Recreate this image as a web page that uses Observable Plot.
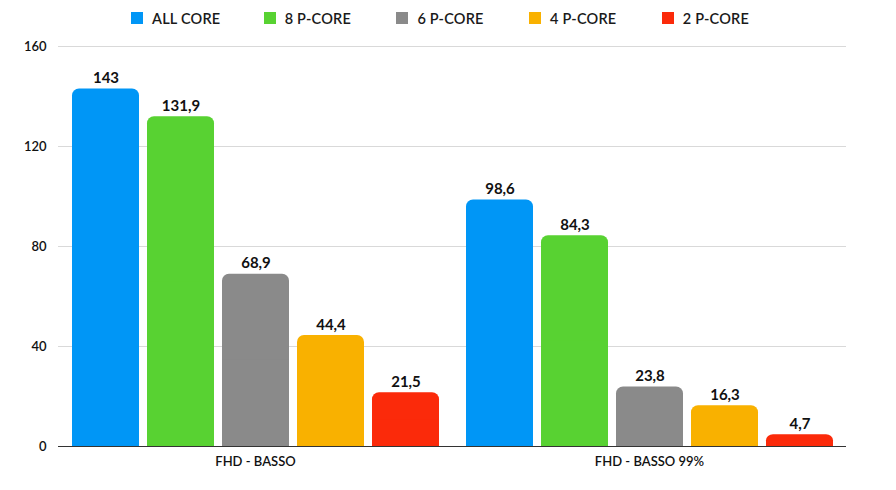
<!DOCTYPE html>
<html>
<head>
<meta charset="utf-8">
<script src="https://cdn.jsdelivr.net/npm/d3@7"></script>
<script src="https://cdn.jsdelivr.net/npm/@observablehq/plot@0.6"></script>
<style>
  body { margin: 0; background: #fff; font-family: Lato, "Open Sans", sans-serif; }
  #legend { height: 34px; display: flex; align-items: center; padding-left: 131px; padding-top: 2px; box-sizing: border-box; }
  .item { width: 132.7px; display: flex; align-items: center; font-size: 14.5px; font-weight: 600; color: #1a1a1a; letter-spacing: 0.2px; }
  .sw { width: 12px; height: 12px; margin-right: 9px; flex: none; }
</style>
</head>
<body>
<div id="legend"></div>
<div id="chart"></div>
<script>
const groups = ["FHD - BASSO", "FHD - BASSO 99%"];
const series = ["ALL CORE", "8 P-CORE", "6 P-CORE", "4 P-CORE", "2 P-CORE"];
const colors = ["#0096f6", "#58d232", "#8a8a8a", "#f9b100", "#fb2a0a"];
const basso = [143, 131.9, 68.9, 44.4, 21.5];
const basso99 = [98.6, 84.3, 23.8, 16.3, 4.7];
const yTicks = [0, 40, 80, 120, 160];

const data = [];
series.forEach((s, i) => {
  data.push({group: groups[0], series: s, value: basso[i]});
  data.push({group: groups[1], series: s, value: basso99[i]});
});

const legend = document.getElementById("legend");
series.forEach((s, i) => {
  const it = document.createElement("div");
  it.className = "item";
  it.innerHTML = `<span class="sw" style="background:${colors[i]}"></span><span>${s}</span>`;
  legend.appendChild(it);
});

const fmt = v => String(v).replace(".", ",");

const chart = Plot.plot({
  width: 896,
  height: 456,
  marginTop: 12,
  marginBottom: 44,
  marginLeft: 57,
  marginRight: 50,
  style: {fontFamily: "Lato, sans-serif", fontSize: "13px", color: "#111", background: "#fff"},
  fx: {domain: groups, padding: 0, label: null},
  x: {domain: series, axis: null, paddingInner: 0.107, paddingOuter: 0.18},
  y: {domain: [0, 160], ticks: yTicks, label: null},
  color: {domain: series, range: colors},
  marks: [
    Plot.gridY(yTicks, {stroke: "#d9d9d9", strokeOpacity: 1}),
    Plot.axisY({ticks: yTicks, tickSize: 0, tickPadding: 12, label: null, fontWeight: 600, fontSize: 13}),
    Plot.axisFx({anchor: "bottom", tickSize: 0, tickPadding: 10, label: null, fontWeight: 600, fontSize: 13}),
    Plot.barY(data, {fx: "group", x: "series", y: "value", fill: "series", rx: 7, ry: 7}),
    Plot.barY(data, {fx: "group", x: "series", y1: 0, y2: d => d.value / 2, fill: "series"}),
    Plot.ruleY([0], {stroke: "#333", strokeWidth: 1.2}),
    Plot.text(data, {fx: "group", x: "series", y: "value", text: d => fmt(d.value), dy: -6, lineAnchor: "bottom", fontSize: 15, fontWeight: 700, fill: "#111"})
  ]
});
document.getElementById("chart").appendChild(chart);
</script>
</body>
</html>
